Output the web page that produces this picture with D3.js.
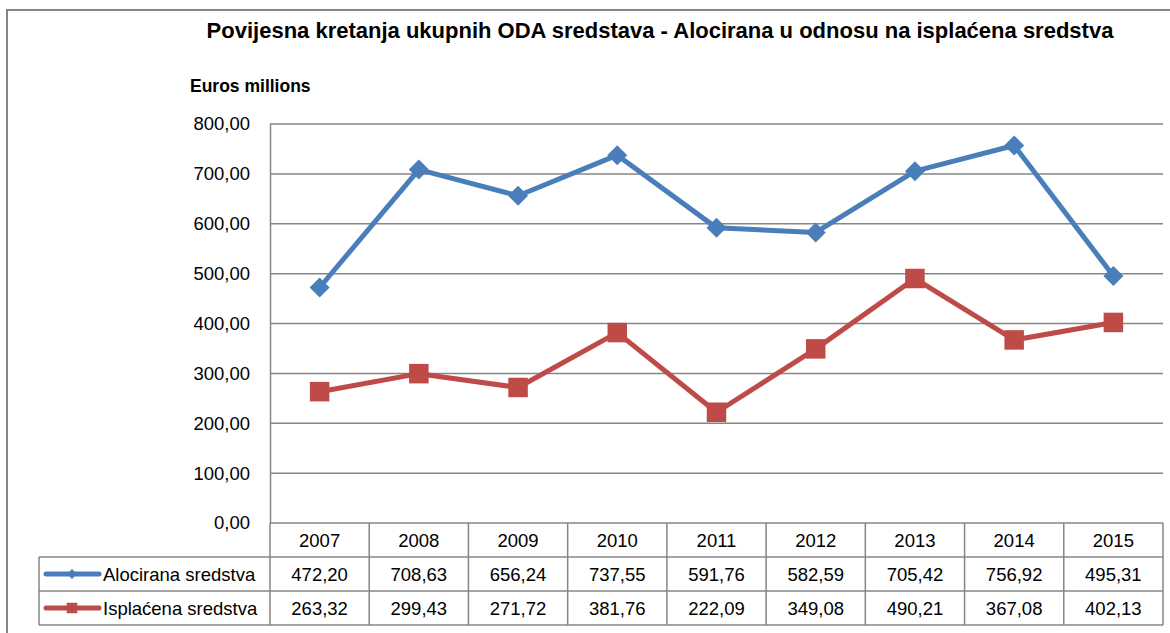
<!DOCTYPE html>
<html>
<head>
<meta charset="utf-8">
<script src="https://cdn.jsdelivr.net/npm/d3@7"></script>
<style>
  body { margin: 0; background: #fff; }
  svg { font-family: "Liberation Sans", Arial, sans-serif; }
</style>
</head>
<body>
<div id="chart"></div>
<script>
const years = ["2007", "2008", "2009", "2010", "2011", "2012", "2013", "2014", "2015"];
const alocirana = [472.20, 708.63, 656.24, 737.55, 591.76, 582.59, 705.42, 756.92, 495.31];
const isplacena = [263.32, 299.43, 271.72, 381.76, 222.09, 349.08, 490.21, 367.08, 402.13];
const yTicks = [0, 100, 200, 300, 400, 500, 600, 700, 800];
const seriesNames = ["Alocirana sredstva", "Isplaćena sredstva"];
const seriesColors = ["#4A7EBB", "#BE4B48"];

const W = 1170, H = 633;
const plot = { left: 270, right: 1163, top: 124, bottom: 523 };
const rowH = 34;
const legendLeft = 39;
const gridColor = "#868686";
const fontSize = "18.5px";

const fmt = v => v.toFixed(2).replace(".", ",");

const svg = d3.select("#chart").append("svg")
    .attr("width", W)
    .attr("height", H);

// outer chart frame (cut off at right / bottom like the reference)
svg.append("rect")
    .attr("x", 7).attr("y", 10)
    .attr("width", W + 20).attr("height", H + 20)
    .attr("fill", "#fff")
    .attr("stroke", gridColor)
    .attr("stroke-width", 2);

// title
svg.append("text")
    .attr("x", 660).attr("y", 38)
    .attr("text-anchor", "middle")
    .attr("font-weight", "bold")
    .attr("font-size", "22px")
    .text("Povijesna kretanja ukupnih ODA sredstava - Alocirana u odnosu na isplaćena sredstva");

svg.append("text")
    .attr("x", 190).attr("y", 92)
    .attr("font-weight", "bold")
    .attr("font-size", "17.5px")
    .text("Euros millions");

const x = d3.scaleBand()
    .domain(years)
    .range([plot.left, plot.right]);

const y = d3.scaleLinear()
    .domain([0, 800])
    .range([plot.bottom, plot.top]);

// gridlines
svg.append("g")
    .selectAll("line")
    .data(yTicks)
    .join("line")
    .attr("x1", plot.left).attr("x2", plot.right)
    .attr("y1", d => y(d)).attr("y2", d => y(d))
    .attr("stroke", gridColor)
    .attr("stroke-width", 1.5);

// y axis with labels
const yAxis = svg.append("g")
    .attr("transform", `translate(${plot.left},0)`)
    .call(d3.axisLeft(y).tickValues(yTicks).tickSize(0).tickPadding(20).tickFormat(fmt));
yAxis.select(".domain").attr("stroke", gridColor).attr("stroke-width", 1.5);
yAxis.selectAll("text")
    .attr("font-family", "Liberation Sans, Arial, sans-serif")
    .attr("font-size", fontSize)
    .attr("fill", "#000");

// data table
const tableBottom = plot.bottom + rowH * 3;
const table = svg.append("g").attr("stroke", gridColor).attr("stroke-width", 1.5);

// vertical lines
table.selectAll("line.col")
    .data(years.map(d => x(d) + x.bandwidth()))
    .join("line")
    .attr("class", "col")
    .attr("x1", d => d).attr("x2", d => d)
    .attr("y1", plot.bottom).attr("y2", tableBottom);
table.append("line")
    .attr("x1", plot.left).attr("x2", plot.left)
    .attr("y1", plot.bottom).attr("y2", tableBottom);
table.append("line")
    .attr("x1", legendLeft).attr("x2", legendLeft)
    .attr("y1", plot.bottom + rowH).attr("y2", tableBottom);

// horizontal lines
[1, 2, 3].forEach(i => {
    table.append("line")
        .attr("x1", legendLeft).attr("x2", plot.right)
        .attr("y1", plot.bottom + rowH * i).attr("y2", plot.bottom + rowH * i);
});

// header row
svg.append("g")
    .selectAll("text")
    .data(years)
    .join("text")
    .attr("x", d => x(d) + x.bandwidth() / 2)
    .attr("y", plot.bottom + rowH / 2 + 7)
    .attr("text-anchor", "middle")
    .attr("font-size", fontSize)
    .text(d => d);

// value rows
[alocirana, isplacena].forEach((vals, r) => {
    svg.append("g")
        .selectAll("text")
        .data(vals)
        .join("text")
        .attr("x", (d, i) => x(years[i]) + x.bandwidth() / 2)
        .attr("y", plot.bottom + rowH * (r + 1) + rowH / 2 + 7)
        .attr("text-anchor", "middle")
        .attr("font-size", fontSize)
        .text(fmt);
});

// lines and markers
const line = d3.line()
    .x((d, i) => x(years[i]) + x.bandwidth() / 2)
    .y(d => y(d));

const diamond = d3.symbol().type(d3.symbolSquare).size(200);
const square = d3.symbol().type(d3.symbolSquare).size(380);

[alocirana, isplacena].forEach((vals, s) => {
    svg.append("path")
        .datum(vals)
        .attr("d", line)
        .attr("fill", "none")
        .attr("stroke", seriesColors[s])
        .attr("stroke-width", 5)
        .attr("stroke-linejoin", "round");

    svg.append("g")
        .selectAll("path")
        .data(vals)
        .join("path")
        .attr("transform", (d, i) => `translate(${x(years[i]) + x.bandwidth() / 2},${y(d)})` + (s === 0 ? " rotate(45)" : ""))
        .attr("d", s === 0 ? diamond : square)
        .attr("fill", seriesColors[s]);
});

// legend keys inside the table
seriesNames.forEach((name, s) => {
    const cy = plot.bottom + rowH * (s + 1) + rowH / 2;
    const g = svg.append("g");
    g.append("line")
        .attr("x1", 46).attr("x2", 99)
        .attr("y1", cy).attr("y2", cy)
        .attr("stroke", seriesColors[s])
        .attr("stroke-width", 5)
        .attr("stroke-linecap", "round");
    g.append("path")
        .attr("transform", `translate(72,${cy})` + (s === 0 ? " rotate(45)" : ""))
        .attr("d", s === 0 ? d3.symbol().type(d3.symbolSquare).size(50)() : d3.symbol().type(d3.symbolSquare).size(110)())
        .attr("fill", seriesColors[s]);
    g.append("text")
        .attr("x", 103)
        .attr("y", cy + 7)
        .attr("font-size", fontSize)
        .text(name);
});
</script>
</body>
</html>
